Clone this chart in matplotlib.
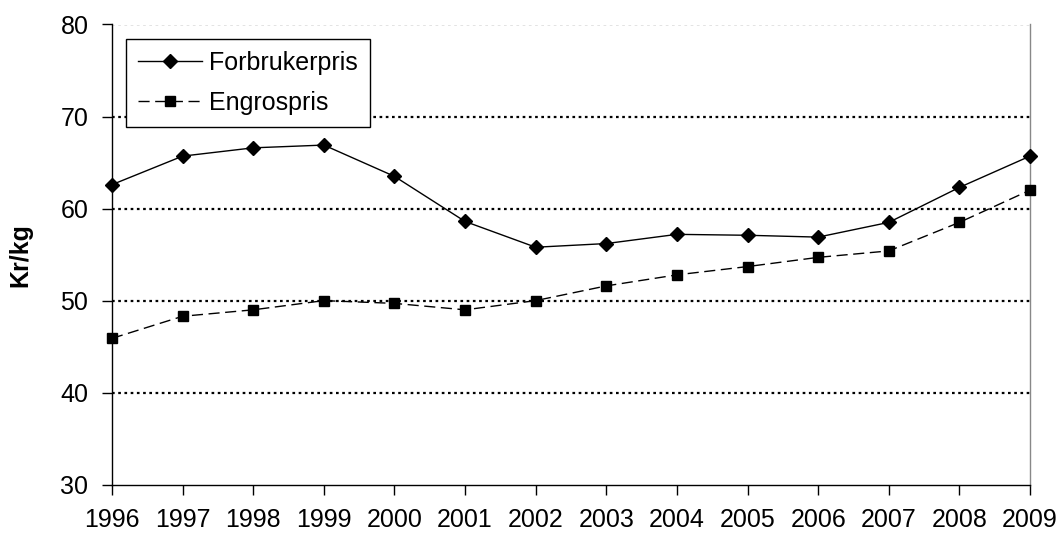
import matplotlib
matplotlib.use("Agg")
import matplotlib.pyplot as plt

years = [1996, 1997, 1998, 1999, 2000, 2001, 2002, 2003, 2004, 2005, 2006, 2007, 2008, 2009]
forbrukerpris = [62.6, 65.7, 66.6, 66.9, 63.5, 58.6, 55.8, 56.2, 57.2, 57.1, 56.9, 58.5, 62.3, 65.7]
engrospris = [45.9, 48.3, 49.0, 50.0, 49.7, 49.0, 50.0, 51.6, 52.8, 53.7, 54.7, 55.4, 58.5, 62.0]
yticks = [30, 40, 50, 60, 70, 80]

plt.rcParams['font.family'] = ['Liberation Sans', 'DejaVu Sans']

fig = plt.figure(figsize=(10.59, 5.33), dpi=100)
ax = fig.add_axes([112/1059, 1 - 484.7/533, (1030-112)/1059, (484.7-24.5)/533])

for v in yticks[1:]:
    ax.axhline(v, color='black', lw=1.6, linestyle=(0, (1.2, 1.6)), zorder=1)

ax.plot(years, forbrukerpris, color='black', lw=1.0, marker='D', markersize=7,
        label='Forbrukerpris', zorder=3, clip_on=False)
ax.plot(years, engrospris, color='black', lw=1.0, linestyle=(0, (8, 4)), marker='s',
        markersize=7, label='Engrospris', zorder=3, clip_on=False)

ax.set_xlim(years[0], years[-1])
ax.set_ylim(30, 80)
ax.set_yticks(yticks)
ax.set_xticks(years)
ax.set_xticklabels([str(y) for y in years])
ax.tick_params(axis='both', labelsize=18, direction='out', length=7, width=1, color='black')
ax.tick_params(axis='x', pad=10)
ax.tick_params(axis='y', pad=10)

ax.spines['top'].set_visible(False)
ax.spines['right'].set_color('#888888')
ax.spines['right'].set_linewidth(1)
ax.spines['left'].set_linewidth(1)
ax.spines['bottom'].set_linewidth(1)

ax.set_ylabel('Kr/kg', fontsize=18, fontweight='bold')
ax.yaxis.set_label_coords(-80/918, 0.5)

leg = ax.legend(loc='upper left', bbox_to_anchor=(14/918, 1 - 14.5/460.2), fontsize=18,
                frameon=True, fancybox=False, edgecolor='black', framealpha=1,
                handlelength=2.56, borderpad=0.48, labelspacing=0.64, handletextpad=0.28,
                borderaxespad=0)
leg.get_frame().set_linewidth(1)

fig.savefig('out.png', dpi=100)
